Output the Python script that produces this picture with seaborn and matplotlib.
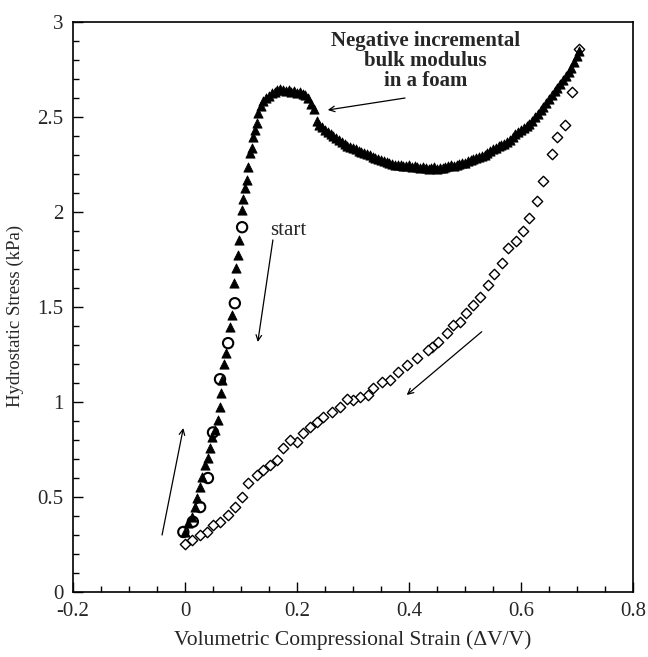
import matplotlib
matplotlib.use("Agg")
import matplotlib.pyplot as plt
from matplotlib.ticker import MultipleLocator, FuncFormatter
import seaborn as sns

# loading curve (filled triangles)
load_x = [0.0, 0.005, 0.0125, 0.018, 0.021, 0.027, 0.030, 0.036, 0.041, 0.045,
          0.048, 0.054, 0.059, 0.0625, 0.064, 0.066, 0.070, 0.074, 0.080, 0.084,
          0.0875, 0.091, 0.095, 0.096, 0.102, 0.104, 0.107, 0.111, 0.1125, 0.116,
          0.120, 0.121, 0.125, 0.129,
          0.130, 0.135, 0.140, 0.145, 0.150, 0.155, 0.160, 0.165, 0.170, 0.175,
          0.180, 0.185, 0.190, 0.195, 0.200, 0.205, 0.210, 0.215, 0.220, 0.225,
          0.230, 0.236, 0.240, 0.245, 0.250, 0.255, 0.260, 0.265, 0.270, 0.275,
          0.280, 0.285, 0.290, 0.295, 0.300, 0.305, 0.310, 0.315, 0.320, 0.325,
          0.330, 0.335, 0.340, 0.345, 0.350, 0.355, 0.360, 0.365, 0.370, 0.375,
          0.380, 0.385, 0.390, 0.395, 0.400, 0.405, 0.410, 0.415, 0.420, 0.425,
          0.430, 0.435, 0.440, 0.445, 0.450, 0.455, 0.460, 0.465, 0.470, 0.475,
          0.480, 0.485, 0.490, 0.495, 0.500, 0.505, 0.510, 0.515, 0.520, 0.525,
          0.530, 0.535, 0.540, 0.545, 0.550, 0.555, 0.560, 0.565, 0.570, 0.575,
          0.580, 0.585, 0.590, 0.595, 0.600, 0.605, 0.610, 0.615, 0.620, 0.625,
          0.630, 0.635, 0.640, 0.645, 0.650, 0.655, 0.660, 0.665, 0.670, 0.675,
          0.680, 0.685, 0.690, 0.695, 0.700, 0.703]
load_y = [0.316, 0.363, 0.395, 0.447, 0.495, 0.553, 0.605, 0.668, 0.705, 0.758,
          0.816, 0.853, 0.905, 0.974, 1.047, 1.116, 1.20, 1.26, 1.395, 1.458,
          1.626, 1.705, 1.774, 1.853, 2.01, 2.07, 2.126, 2.17, 2.237, 2.31,
          2.337, 2.395, 2.43, 2.47,
          2.52, 2.56, 2.585, 2.60, 2.61, 2.625, 2.63, 2.64, 2.645, 2.64,
          2.635, 2.64, 2.63, 2.635, 2.625, 2.63, 2.62, 2.615, 2.60, 2.57,
          2.54, 2.48, 2.46, 2.445, 2.43, 2.42, 2.41, 2.40, 2.39, 2.38,
          2.37, 2.36, 2.35, 2.34, 2.335, 2.33, 2.32, 2.315, 2.31, 2.305,
          2.30, 2.29, 2.285, 2.28, 2.275, 2.27, 2.265, 2.26, 2.255, 2.25,
          2.25, 2.245, 2.24, 2.24, 2.245, 2.235, 2.24, 2.235, 2.23, 2.235,
          2.23, 2.225, 2.23, 2.235, 2.225, 2.23, 2.23, 2.235, 2.24, 2.245,
          2.24, 2.25, 2.255, 2.26, 2.26, 2.27, 2.275, 2.28, 2.285, 2.29,
          2.295, 2.30, 2.31, 2.32, 2.33, 2.335, 2.345, 2.355, 2.36, 2.37,
          2.38, 2.395, 2.41, 2.42, 2.43, 2.44, 2.455, 2.465, 2.48, 2.50,
          2.515, 2.535, 2.555, 2.575, 2.595, 2.615, 2.635, 2.655, 2.675, 2.695,
          2.715, 2.735, 2.76, 2.79, 2.82, 2.85]

# open circles on the initial loading branch
circ_x = [-0.003, 0.014, 0.027, 0.041, 0.050, 0.0625, 0.077, 0.089, 0.102]
circ_y = [0.316, 0.37, 0.447, 0.60, 0.84, 1.12, 1.31, 1.52, 1.92]

# unloading curve (open diamonds)
unl_x = [0.704, 0.691, 0.679, 0.664, 0.655, 0.639, 0.628, 0.615, 0.604, 0.591,
         0.577, 0.566, 0.552, 0.541, 0.527, 0.514, 0.502, 0.491, 0.479, 0.468,
         0.452, 0.441, 0.434, 0.414, 0.396, 0.380, 0.366, 0.352, 0.336, 0.327,
         0.3125, 0.300, 0.289, 0.277, 0.2625, 0.246, 0.236, 0.223, 0.211, 0.200,
         0.1875, 0.175, 0.164, 0.152, 0.139, 0.129, 0.1125, 0.102, 0.089, 0.077,
         0.0625, 0.050, 0.039, 0.027, 0.0125, 0.0]
unl_y = [2.86, 2.63, 2.46, 2.395, 2.305, 2.165, 2.06, 1.968, 1.90, 1.847,
         1.81, 1.73, 1.674, 1.616, 1.553, 1.51, 1.468, 1.421, 1.405, 1.363,
         1.316, 1.29, 1.274, 1.232, 1.195, 1.158, 1.116, 1.105, 1.074, 1.037,
         1.026, 1.01, 1.015, 0.974, 0.947, 0.921, 0.895, 0.868, 0.837, 0.79,
         0.80, 0.758, 0.695, 0.668, 0.642, 0.616, 0.574, 0.50, 0.447, 0.405,
         0.368, 0.353, 0.316, 0.30, 0.274, 0.253]

sns.set_style("ticks")
plt.rcParams['font.family'] = ['Liberation Serif', 'DejaVu Serif']

fig = plt.figure(figsize=(6.48, 6.57), dpi=100)
ax = fig.add_axes([0.1127, 0.0989, 0.864, 0.8676])

sns.scatterplot(x=unl_x, y=unl_y, marker='D', s=28, facecolor='white',
                edgecolor='black', linewidth=1.0, ax=ax, zorder=2)
sns.scatterplot(x=load_x, y=load_y, marker='^', s=44, color='black',
                edgecolor='black', linewidth=0.6, ax=ax, zorder=3)
sns.scatterplot(x=circ_x, y=circ_y, marker='o', s=55, facecolor='none',
                edgecolor='black', linewidth=1.5, ax=ax, zorder=4)

ax.set_xlim(-0.2, 0.8)
ax.set_ylim(0, 3)
ax.xaxis.set_major_locator(MultipleLocator(0.2))
ax.xaxis.set_minor_locator(MultipleLocator(0.05))
ax.yaxis.set_major_locator(MultipleLocator(0.5))
ax.yaxis.set_minor_locator(MultipleLocator(0.1))
fmt = FuncFormatter(lambda v, p: '%g' % round(v, 3))
ax.xaxis.set_major_formatter(fmt)
ax.yaxis.set_major_formatter(fmt)
ax.tick_params(which='both', direction='in', top=False, right=False,
               labelsize=15, color='black', width=1)
ax.tick_params(which='major', length=7, pad=7)
ax.tick_params(which='minor', length=4)
for sp in ax.spines.values():
    sp.set_color('black')
    sp.set_linewidth(1.2)

ax.set_xlabel('Volumetric Compressional Strain (ΔV/V)', fontsize=15.5, labelpad=7)
ax.set_ylabel('Hydrostatic Stress (kPa)', fontsize=13.5, labelpad=6)
ax.yaxis.set_label_coords(-0.088, 0.485)

arrow = dict(arrowstyle='->', color='black', lw=0.9, shrinkA=0, shrinkB=0)
ax.text(0.429, 2.795, 'Negative incremental\nbulk modulus\nin a foam',
        ha='center', va='center', fontsize=15, fontweight='bold', linespacing=1.0)
ax.annotate('', xy=(0.255, 2.537), xytext=(0.393, 2.60), arrowprops=arrow)
ax.text(0.184, 1.905, 'start', ha='center', va='center', fontsize=15)
ax.annotate('', xy=(0.130, 1.316), xytext=(0.157, 1.853), arrowprops=arrow)
ax.annotate('', xy=(-0.003, 0.863), xytext=(-0.041, 0.30), arrowprops=arrow)
ax.annotate('', xy=(0.396, 1.037), xytext=(0.53, 1.37), arrowprops=arrow)

fig.savefig('out.png', dpi=100)
